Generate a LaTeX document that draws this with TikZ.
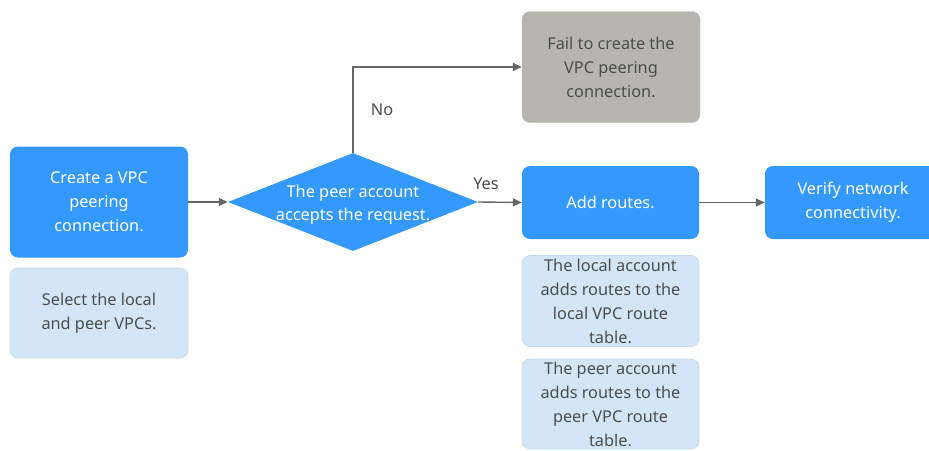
\documentclass[tikz,border=0pt]{standalone}
\usepackage{fontspec}
\setmainfont{Noto Sans}
\usetikzlibrary{shapes.geometric,arrows.meta}
\definecolor{mainblue}{HTML}{3399FF}
\definecolor{lightblue}{HTML}{D3E6F8}
\definecolor{lightedge}{HTML}{C4DAEE}
\definecolor{failgray}{HTML}{B6B5AE}
\definecolor{txtgray}{HTML}{4D4D4D}
\definecolor{linegray}{HTML}{666666}
\tikzset{
  box/.style={rectangle, rounded corners=8pt, align=center, inner sep=0pt,
    font=\fontsize{16.3}{24}\selectfont},
  mainbox/.style={box, fill=mainblue, text=white},
  subbox/.style={box, fill=lightblue, draw=lightedge, line width=0.6pt, text=txtgray},
  failbox/.style={box, fill=failgray, draw=failgray!85!white, text=txtgray},
  conn/.style={draw=linegray, line width=1.4pt, -{Triangle[length=9pt,width=8pt]}},
  lbl/.style={text=txtgray, font=\fontsize{16.3}{20}\selectfont, inner sep=0pt}
}
\begin{document}
\begin{tikzpicture}[x=1pt,y=-1pt]
\useasboundingbox (0,0) rectangle (929,450);
\fill[white] (0,0) rectangle (929,450);
% nodes
\node[mainbox, minimum width=178pt, minimum height=111pt] (create) at (99,202) {Create a VPC\\peering\\connection.};
\node[subbox, minimum width=178pt, minimum height=90pt] (select) at (99,313) {Select the local\\and peer VPCs.};
\node[diamond, fill=mainblue, minimum width=250pt, minimum height=98pt, inner sep=0pt] (dec) at (353,202) {};
\node[text=white, align=center, font=\fontsize{16.3}{23}\selectfont, inner sep=0pt] (dectext) at (353,205) {The peer account\\accepts the request.};
\node[failbox, minimum width=178pt, minimum height=111pt] (fail) at (611,67) {Fail to create the\\VPC peering\\connection.};
\node[mainbox, minimum width=177pt, minimum height=73pt] (add) at (610.5,202.5) {Add routes.};
\node[mainbox, minimum width=176pt, minimum height=73pt] (verify) at (853,202.5) {Verify network\\connectivity.};
\node[subbox, minimum width=177pt, minimum height=91pt] (local) at (610.5,301) {The local account\\adds routes to the\\local VPC route\\table.};
\node[subbox, minimum width=177pt, minimum height=90pt] (peer) at (610.5,404) {The peer account\\adds routes to the\\peer VPC route\\table.};
\coordinate (bend) at (dec.north |- fail.west);
% connectors
\draw[conn] (create.east) -- (dec.west);
\draw[conn] (dec.east) -- (add.west);
\draw[conn] (add.east) -- (verify.west);
\draw[conn] (dec.north) -- (bend) -- (fail.west);
% labels
\node[lbl] (no) at (382,110) {No};
\node[lbl] (yes) at (486,184) {Yes};
\end{tikzpicture}
\end{document}
